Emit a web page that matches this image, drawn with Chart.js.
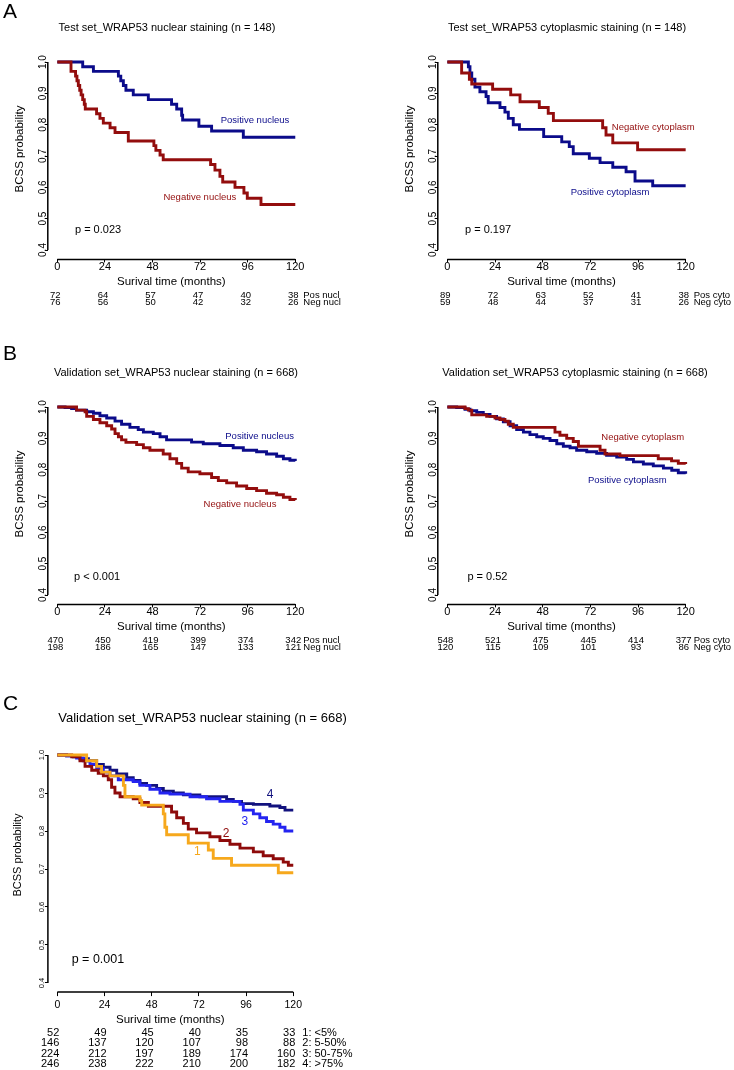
<!DOCTYPE html>
<html>
<head>
<meta charset="utf-8">
<script src="https://cdn.jsdelivr.net/npm/chart.js@4.4.1/dist/chart.umd.min.js"></script>
<style>
  body { margin: 0; background: #fff; }
  #fig { position: relative; width: 734px; height: 1070px; }
  #fig canvas { position: absolute; }
</style>
</head>
<body>
<div id="fig">
  <canvas id="aNuc" width="367" height="310" style="left:0;top:0"></canvas>
  <canvas id="aCyt" width="367" height="310" style="left:367px;top:0"></canvas>
  <canvas id="bNuc" width="367" height="310" style="left:0;top:345px"></canvas>
  <canvas id="bCyt" width="367" height="310" style="left:367px;top:345px"></canvas>
  <canvas id="cNuc" width="367" height="390" style="left:0;top:680px"></canvas>
</div>
<script>
// ticks shared by every panel
const xTicks = [0, 24, 48, 72, 96, 120];
const yTicks = [0.4, 0.5, 0.6, 0.7, 0.8, 0.9, 1.0];

// A: test set, nuclear staining
const testNucPosTime = [0, 12.8, 18.2, 30.8, 32, 33.3, 34.6, 38.3, 45.9, 57.6, 60.2, 62.7, 63.2, 71.4, 77.8, 93.8, 120];
const testNucPosSurv = [1, 0.985, 0.97, 0.955, 0.94, 0.925, 0.91, 0.895, 0.88, 0.865, 0.85, 0.83, 0.815, 0.795, 0.78, 0.76, 0.76];
const testNucNegTime = [0, 6.9, 9.2, 9.9, 10.6, 11.3, 12, 12.8, 13.6, 14.1, 19.8, 21.5, 23.2, 26.6, 29.1, 35.8, 48.7, 49.7, 51.8, 53.4, 77.3, 79.5, 82, 83.4, 89.6, 94.1, 95.8, 102.7, 120];
const testNucNegSurv = [1, 0.97, 0.955, 0.94, 0.925, 0.91, 0.895, 0.88, 0.865, 0.85, 0.835, 0.82, 0.805, 0.79, 0.775, 0.748, 0.733, 0.718, 0.703, 0.688, 0.673, 0.655, 0.635, 0.617, 0.6, 0.582, 0.565, 0.545, 0.545];

// A: test set, cytoplasmic staining
const testCytNegTime = [0, 7.2, 11.1, 12.3, 22.8, 31.9, 36.6, 46.3, 50.8, 53.4, 78.2, 79.9, 83.3, 95.8, 120];
const testCytNegSurv = [1, 0.965, 0.945, 0.93, 0.913, 0.895, 0.873, 0.855, 0.836, 0.813, 0.79, 0.767, 0.742, 0.72, 0.72];
const testCytPosTime = [0, 10.6, 11.4, 12.3, 13.9, 16.4, 19.5, 20.6, 26.5, 29, 30.7, 33.2, 36.3, 48.5, 57.6, 61.4, 63.4, 71.5, 76.9, 83.3, 90, 94.5, 103.4, 120];
const testCytPosSurv = [1, 0.985, 0.965, 0.945, 0.92, 0.905, 0.89, 0.87, 0.855, 0.84, 0.82, 0.8, 0.785, 0.762, 0.745, 0.73, 0.707, 0.693, 0.679, 0.664, 0.65, 0.62, 0.605, 0.605];

// B: validation set, nuclear staining
const valNucPosTime = [0, 3.9, 7.2, 9.7, 14.8, 18.2, 21.5, 24.9, 29.1, 32.4, 36.6, 40.8, 43.4, 48.4, 51.8, 55.1, 67.7, 73.6, 82, 88.7, 93.8, 100.5, 105.5, 110.6, 114, 117.3, 120];
const valNucPosSurv = [1, 0.998, 0.995, 0.99, 0.985, 0.98, 0.972, 0.965, 0.955, 0.945, 0.935, 0.928, 0.92, 0.915, 0.905, 0.895, 0.888, 0.883, 0.877, 0.87, 0.862, 0.857, 0.85, 0.843, 0.835, 0.83, 0.828];
const valNucNegTime = [0, 9.7, 14, 14.8, 18.2, 21.5, 24.9, 27.4, 29.1, 30.8, 32.4, 34.6, 40, 43.4, 46.7, 53.4, 56.8, 60.2, 62.7, 66, 71.9, 77.8, 81.2, 85.4, 90.4, 95.5, 100.5, 105.5, 110.6, 114, 117.3, 120];
const valNucNegSurv = [1, 0.99, 0.985, 0.97, 0.96, 0.95, 0.94, 0.93, 0.915, 0.905, 0.895, 0.887, 0.88, 0.87, 0.862, 0.85, 0.835, 0.82, 0.805, 0.793, 0.787, 0.775, 0.765, 0.758, 0.748, 0.74, 0.733, 0.725, 0.72, 0.712, 0.705, 0.703];

// B: validation set, cytoplasmic staining
const valCytNegTime = [0, 8.9, 10.6, 12.3, 19.8, 24, 26.5, 29, 30.7, 33.2, 54.2, 56.7, 60.1, 63.4, 66, 76.9, 79.4, 86.9, 106.2, 112.9, 116.3, 120];
const valCytNegSurv = [1, 0.995, 0.99, 0.975, 0.97, 0.965, 0.96, 0.955, 0.945, 0.935, 0.92, 0.91, 0.9, 0.89, 0.875, 0.862, 0.85, 0.845, 0.835, 0.828, 0.82, 0.818];
const valCytPosTime = [0, 4.7, 8.9, 11.4, 14.8, 18.1, 21.5, 24.8, 28.2, 31.6, 34.9, 38.3, 41.6, 45, 48.3, 51.7, 55.1, 58.4, 61.8, 65.1, 70.2, 75.2, 80.2, 85.3, 90.3, 93.7, 98.7, 103.7, 108.8, 113, 116.3, 120];
const valCytPosSurv = [1, 0.998, 0.993, 0.988, 0.983, 0.976, 0.97, 0.962, 0.953, 0.94, 0.928, 0.92, 0.912, 0.905, 0.9, 0.893, 0.883, 0.875, 0.87, 0.862, 0.857, 0.852, 0.846, 0.84, 0.833, 0.825, 0.818, 0.812, 0.805, 0.798, 0.79, 0.787];

// C: validation set, nuclear staining by fraction of positive nuclei
const grp1Time = [0, 14.9, 20, 22.5, 26.8, 33.6, 34.4, 42, 42.9, 53.9, 54.7, 55.6, 66.6, 76.8, 79.3, 88.6, 112.4, 120];
const grp1Surv = [1, 0.985, 0.97, 0.955, 0.945, 0.92, 0.89, 0.88, 0.868, 0.845, 0.81, 0.79, 0.768, 0.75, 0.728, 0.71, 0.69, 0.69];
const grp2Time = [0, 7.3, 11.5, 14.1, 17.5, 20.8, 23.4, 25.9, 27.6, 29.3, 31.9, 38.6, 42, 46.3, 58.1, 60.7, 64.1, 66.6, 70.8, 77.6, 82.7, 87.8, 92.9, 99.7, 104.7, 109.8, 114.9, 117.5, 120];
const grp2Surv = [1, 0.995, 0.985, 0.97, 0.96, 0.952, 0.945, 0.935, 0.915, 0.9, 0.89, 0.885, 0.875, 0.865, 0.85, 0.835, 0.82, 0.805, 0.795, 0.785, 0.775, 0.765, 0.755, 0.745, 0.735, 0.727, 0.718, 0.71, 0.71];
const grp3Time = [0, 4.7, 9.8, 13.2, 16.6, 20, 23.4, 26.8, 31, 38.6, 42, 47.1, 52.2, 57.3, 67.5, 75.9, 82.7, 92.9, 94.6, 99.7, 103, 106.4, 109.8, 113.2, 115.8, 120];
const grp3Surv = [1, 0.998, 0.992, 0.985, 0.975, 0.965, 0.955, 0.945, 0.935, 0.93, 0.92, 0.91, 0.9, 0.897, 0.89, 0.885, 0.878, 0.87, 0.855, 0.845, 0.835, 0.825, 0.818, 0.81, 0.8, 0.8];
const grp4Time = [0, 4.7, 8.1, 11.5, 15.8, 20, 23.4, 26.8, 30.2, 35.3, 38.6, 42, 45.4, 50.5, 53.9, 59, 64.1, 72.5, 86.1, 89.5, 93.7, 99.7, 108.1, 113.2, 115.8, 120];
const grp4Surv = [1, 0.998, 0.995, 0.99, 0.985, 0.975, 0.968, 0.96, 0.95, 0.94, 0.933, 0.925, 0.92, 0.912, 0.905, 0.9, 0.895, 0.89, 0.883, 0.878, 0.872, 0.87, 0.866, 0.862, 0.855, 0.855];

// numbers at risk at each x tick
const testNucPosRisk = [72, 64, 57, 47, 40, 38];
const testNucNegRisk = [76, 56, 50, 42, 32, 26];
const testCytPosRisk = [89, 72, 63, 52, 41, 38];
const testCytNegRisk = [59, 48, 44, 37, 31, 26];
const valNucPosRisk = [470, 450, 419, 399, 374, 342];
const valNucNegRisk = [198, 186, 165, 147, 133, 121];
const valCytPosRisk = [548, 521, 475, 445, 414, 377];
const valCytNegRisk = [120, 115, 109, 101, 93, 86];
const grp1Risk = [52, 49, 45, 40, 35, 33];
const grp2Risk = [146, 137, 120, 107, 98, 88];
const grp3Risk = [224, 212, 197, 189, 174, 160];
const grp4Risk = [246, 238, 222, 210, 200, 182];

const RED = '#930d0d';
const BLUE = '#0b0b8a';
const FONT = '"Liberation Sans", Arial, Helvetica, sans-serif';
Chart.defaults.font.family = FONT;
Chart.defaults.color = '#000';

const Y_W = 20;  // fixed y scale box width
const X_H = 30;  // fixed x scale box height

function text(ctx, s, x, y, size, color, align, rotate) {
    ctx.save();
    ctx.font = `${size}px ${FONT}`;
    ctx.fillStyle = color || '#000';
    ctx.textAlign = align || 'left';
    ctx.textBaseline = 'middle';
    ctx.translate(x, y);
    if (rotate) ctx.rotate(-Math.PI / 2);
    ctx.fillText(s, 0, 0);
    ctx.restore();
}

function survPanel(id, p) {
    const canvas = document.getElementById(id);
    const W = canvas.width, H = canvas.height;

    // R-style decorations: detached axis lines, titles, labels, risk table
    const decor = {
        id: 'decor',
        afterDraw(chart) {
            const { ctx, chartArea: a, scales: { x, y } } = chart;
            ctx.save();
            ctx.strokeStyle = '#000';
            ctx.lineWidth = 1.5;
            ctx.beginPath();
            ctx.moveTo(x.getPixelForValue(xTicks[0]), a.bottom);
            ctx.lineTo(x.getPixelForValue(xTicks[xTicks.length - 1]), a.bottom);
            ctx.moveTo(a.left, y.getPixelForValue(yTicks[0]));
            ctx.lineTo(a.left, y.getPixelForValue(yTicks[yTicks.length - 1]));
            ctx.stroke();
            ctx.restore();

            if (p.letter) text(ctx, p.letter, 3, p.letterY, 21, '#000', 'left');
            text(ctx, p.title, p.titleX, p.titleY, p.titleSize, '#000', 'center');
            text(ctx, 'Surival time (months)', x.getPixelForValue(60) - 5, p.xlabelY, 11.5, '#000', 'center');
            text(ctx, 'BCSS probability', a.left - p.ylabelDx, y.getPixelForValue(0.7) - p.ylabelDy, p.ylabelSize, '#000', 'center', true);
            text(ctx, p.pText, x.getPixelForValue(p.pAt[0]), y.getPixelForValue(p.pAt[1]), p.pSize, '#000', 'left');

            p.notes.forEach(n => {
                text(ctx, n.text, x.getPixelForValue(n.t), y.getPixelForValue(n.s), p.noteSize, n.color, 'center');
            });

            p.risk.forEach((row, r) => {
                row.values.forEach((v, i) => {
                    const px = x.getPixelForValue(xTicks[i]) + p.riskDx;
                    text(ctx, String(v), px, p.riskY[r], p.riskSize, '#000', p.riskAlign);
                });
                text(ctx, row.label, x.getPixelForValue(120) + p.riskLabelDx, p.riskY[r], p.riskSize, '#000', 'left');
            });
        }
    };

    new Chart(canvas, {
        type: 'line',
        data: {
            datasets: p.curves.map(c => ({
                data: c.time.map((t, i) => ({ x: t, y: c.surv[i] })),
                borderColor: c.color,
                borderWidth: p.lineWidth,
                stepped: 'before',
                pointRadius: 0,
                fill: false
            }))
        },
        options: {
            responsive: false,
            animation: false,
            events: [],
            layout: {
                padding: {
                    left: p.area.left - Y_W,
                    top: p.area.top,
                    right: W - p.area.right,
                    bottom: H - p.area.bottom - X_H
                }
            },
            plugins: { legend: { display: false }, tooltip: { enabled: false } },
            scales: {
                x: {
                    type: 'linear',
                    min: -4.8,
                    max: 124.8,
                    afterBuildTicks: s => { s.ticks = xTicks.map(v => ({ value: v })); },
                    afterFit: s => { s.height = X_H; },
                    ticks: { font: { size: p.xTickSize }, color: '#000', padding: p.xTickPad, autoSkip: false, maxRotation: 0 },
                    grid: { drawOnChartArea: false, color: '#000', tickLength: p.tickLen },
                    border: { display: false }
                },
                y: {
                    type: 'linear',
                    min: p.yMin,
                    max: 1.024,
                    afterBuildTicks: s => { s.ticks = yTicks.map(v => ({ value: v })); },
                    afterFit: s => { s.width = Y_W; },
                    ticks: {
                        font: { size: p.yTickSize }, color: '#000', padding: p.yTickPad,
                        minRotation: 90, maxRotation: 90, crossAlign: 'center',
                        callback: v => v.toFixed(1)
                    },
                    grid: { drawOnChartArea: false, color: '#000', tickLength: 3 },
                    border: { display: false }
                }
            }
        },
        plugins: [decor]
    });
}

// shared layout for the four two-group panels
const small = {
    yMin: 0.37, lineWidth: 2.9, tickLen: 3,
    xTickSize: 11, xTickPad: -2.3, yTickSize: 10, yTickPad: -5,
    titleY: 28, titleSize: 11, xlabelY: 281.7,
    ylabelDx: 28, ylabelDy: 7, ylabelSize: 11.5,
    pSize: 11, noteSize: 9.5,
    riskY: [295.5, 302.5], riskSize: 9.5, riskAlign: 'center', riskDx: -2, riskLabelDx: 8
};
const leftArea = { left: 47.8, right: 304.8, top: 54.5, bottom: 259.4 };
const rightArea = { left: 70.8, right: 328.2, top: 54.5, bottom: 259.4 };

survPanel('aNuc', Object.assign({}, small, {
    area: leftArea, letter: 'A', letterY: 12.5,
    title: 'Test set_WRAP53 nuclear staining (n = 148)', titleX: 167,
    curves: [
        { time: testNucNegTime, surv: testNucNegSurv, color: RED },
        { time: testNucPosTime, surv: testNucPosSurv, color: BLUE }
    ],
    pText: 'p = 0.023', pAt: [8.9, 0.464],
    notes: [
        { text: 'Positive nucleus', t: 99.7, s: 0.815, color: BLUE },
        { text: 'Negative nucleus', t: 71.9, s: 0.568, color: RED }
    ],
    risk: [{ values: testNucPosRisk, label: 'Pos nucl' }, { values: testNucNegRisk, label: 'Neg nucl' }]
}));

survPanel('aCyt', Object.assign({}, small, {
    area: rightArea,
    title: 'Test set_WRAP53 cytoplasmic staining (n = 148)', titleX: 200,
    curves: [
        { time: testCytNegTime, surv: testCytNegSurv, color: RED },
        { time: testCytPosTime, surv: testCytPosSurv, color: BLUE }
    ],
    pText: 'p = 0.197', pAt: [8.9, 0.464],
    notes: [
        { text: 'Negative cytoplasm', t: 103.7, s: 0.79, color: RED },
        { text: 'Positive cytoplasm', t: 81.9, s: 0.584, color: BLUE }
    ],
    risk: [{ values: testCytPosRisk, label: 'Pos cyto' }, { values: testCytNegRisk, label: 'Neg cyto' }]
}));

survPanel('bNuc', Object.assign({}, small, {
    area: leftArea, letter: 'B', letterY: 9,
    title: 'Validation set_WRAP53 nuclear staining (n = 668)', titleX: 176,
    curves: [
        { time: valNucNegTime, surv: valNucNegSurv, color: RED },
        { time: valNucPosTime, surv: valNucPosSurv, color: BLUE }
    ],
    pText: 'p < 0.001', pAt: [8.4, 0.458],
    notes: [
        { text: 'Positive nucleus', t: 102, s: 0.907, color: BLUE },
        { text: 'Negative nucleus', t: 92.1, s: 0.69, color: RED }
    ],
    risk: [{ values: valNucPosRisk, label: 'Pos nucl' }, { values: valNucNegRisk, label: 'Neg nucl' }]
}));

survPanel('bCyt', Object.assign({}, small, {
    area: rightArea,
    title: 'Validation set_WRAP53 cytoplasmic staining (n = 668)', titleX: 208,
    curves: [
        { time: valCytNegTime, surv: valCytNegSurv, color: RED },
        { time: valCytPosTime, surv: valCytPosSurv, color: BLUE }
    ],
    pText: 'p = 0.52', pAt: [10.1, 0.458],
    notes: [
        { text: 'Negative cytoplasm', t: 98.4, s: 0.903, color: RED },
        { text: 'Positive cytoplasm', t: 90.6, s: 0.767, color: BLUE }
    ],
    risk: [{ values: valCytPosRisk, label: 'Pos cyto' }, { values: valCytNegRisk, label: 'Neg cyto' }]
}));

survPanel('cNuc', {
    area: { left: 47.9, right: 302.7, top: 65.9, bottom: 312.1 },
    yMin: 0.376, lineWidth: 2.9, tickLen: 4,
    xTickSize: 10.5, xTickPad: 3, yTickSize: 7.5, yTickPad: -2.2,
    letter: 'C', letterY: 24.7,
    title: 'Validation set_WRAP53 nuclear staining (n = 668)', titleX: 202.5, titleY: 38, titleSize: 13,
    xlabelY: 340, ylabelDx: 29.5, ylabelDy: 14, ylabelSize: 11,
    curves: [
        { time: grp1Time, surv: grp1Surv, color: '#f6a81c' },
        { time: grp2Time, surv: grp2Surv, color: '#8e0b0b' },
        { time: grp3Time, surv: grp3Surv, color: '#2424f0' },
        { time: grp4Time, surv: grp4Surv, color: '#12127e' }
    ],
    pText: 'p = 0.001', pAt: [7.3, 0.462], pSize: 12.5,
    notes: [
        { text: '4', t: 108.2, s: 0.895, color: '#12127e' },
        { text: '3', t: 95.4, s: 0.824, color: '#2424f0' },
        { text: '2', t: 85.8, s: 0.794, color: '#8e0b0b' },
        { text: '1', t: 71.2, s: 0.746, color: '#f6a81c' }
    ],
    noteSize: 12,
    risk: [
        { values: grp1Risk, label: '1: <5%' },
        { values: grp2Risk, label: '2: 5-50%' },
        { values: grp3Risk, label: '3: 50-75%' },
        { values: grp4Risk, label: '4: >75%' }
    ],
    riskY: [352.7, 363, 374, 384.3], riskSize: 11, riskAlign: 'right', riskDx: 2, riskLabelDx: 9
});
</script>
</body>
</html>
